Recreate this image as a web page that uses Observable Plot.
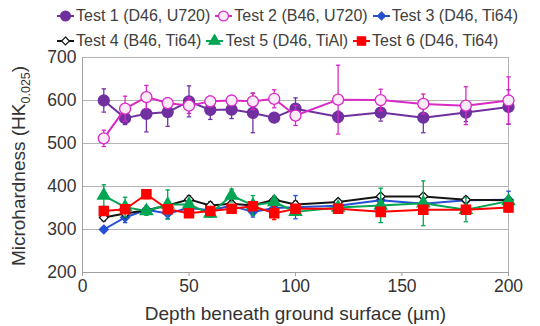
<!DOCTYPE html>
<html><head><meta charset="utf-8">
<script src="https://cdn.jsdelivr.net/npm/d3@7"></script>
<script src="https://cdn.jsdelivr.net/npm/@observablehq/plot@0.6"></script>
<style>
body{margin:0;background:#fff;font-family:"Liberation Sans",Arial,sans-serif;}
#wrap{position:relative;width:540px;height:326px;overflow:hidden;}
#legend{position:relative;height:46px;width:540px;font-size:16px;color:#404040;}
.row{position:absolute;left:56px;display:flex;align-items:center;white-space:nowrap;height:20px;gap:4px;}
.item{display:flex;align-items:center;white-space:nowrap;}
.item svg{margin-right:1px;}
#chart svg{display:block;}
g[aria-label="x-axis label"] text{font-size:19px;}
</style></head><body><div id="wrap"><div id="legend"></div><div id="chart"></div></div>
<script>
const depth = [10,20,30,40,50,60,70,80,90,100,120,140,160,180,200];
const names = ["Test 1 (D46, U720)","Test 2 (B46, U720)","Test 3 (D46, Ti64)","Test 4 (B46, Ti64)","Test 5 (D46, TiAl)","Test 6 (D46, Ti64)"];
const test1 = [600,559,569,573,598,578,579,571,560,581,562,572,560,572,585];
const test1Err = [27,15,42,33,36,22,21,46,8,25,13,20,35,21,40];
const test2 = [512,581,608,594,588,598,600,598,604,565,602,601,592,588,600];
const test2Err = [19,29,27,12,18,12,8,19,21,23,80,25,23,44,55];
const test3 = [300,328,346,337,350,345,355,341,350,352,355,368,360,368,369];
const test3Err = [5,12,8,12,8,8,8,12,8,27,8,10,8,8,20];
const test4 = [328,337,345,356,370,356,360,356,369,358,364,377,377,369,368];
const test4Err = [8,8,8,8,8,8,8,8,8,8,6,6,6,6,6];
const test5 = [379,352,343,358,358,337,379,356,364,341,351,356,361,346,366];
const test5Err = [25,23,10,34,8,8,15,23,8,8,8,40,52,28,8];
const test6 = [343,347,382,347,338,343,348,354,338,348,348,341,346,346,351];
const test6Err = [10,8,10,8,8,8,8,8,15,5,5,8,8,10,10];
const yTicks = [200,300,400,500,600,700];
const xTicks = [0,50,100,150,200];

const styles = [
  {color:"#7030a0", symbol:"circle", fill:"#7030a0", r:5.5},
  {color:"#d92ac6", symbol:"circle", fill:"#fbeaf7", r:5.5},
  {color:"#2450d2", symbol:"diamond2", fill:"#2450d2", r:4},
  {color:"#141414", symbol:"diamond2", fill:"#ffffff", r:4},
  {color:"#00a651", symbol:"triangle", fill:"#00a651", r:4.6},
  {color:"#ff0000", symbol:"square", fill:"#ff0000", r:5.2}
];
const values = [test1,test2,test3,test4,test5,test6];
const errs = [test1Err,test2Err,test3Err,test4Err,test5Err,test6Err];

const cap = {draw(ctx, size){ const r = Math.sqrt(size/Math.PI); ctx.moveTo(-r,0); ctx.lineTo(r,0); }};

const marks = [
  Plot.gridY(yTicks, {stroke:"#b4b4b4", strokeOpacity:1, strokeWidth:1}),
  Plot.ruleX([0], {stroke:"#a0a0a0"}),
  Plot.ruleX([200], {stroke:"#b4b4b4"}),
  Plot.ruleY([200], {stroke:"#a0a0a0"}),
  Plot.axisY(yTicks, {tickSize:0, tickPadding:6, fontSize:17.5, fill:"#333", label:null}),
  Plot.axisX(xTicks, {tickSize:4, tickPadding:3, fontSize:17.5, fill:"#333", stroke:"#a0a0a0",
    label:"Depth beneath ground surface (µm)", labelAnchor:"center", labelArrow:"none", labelOffset:47})
];
values.forEach((vals, k) => {
  const s = styles[k];
  const data = depth.map((x,i)=>({x, y:vals[i], lo:vals[i]-errs[k][i], hi:vals[i]+errs[k][i]}));
  marks.push(
    Plot.ruleX(data, {x:"x", y1:"lo", y2:"hi", stroke:s.color, strokeWidth:1.3}),
    Plot.dot(data, {x:"x", y:"lo", symbol:cap, r:2.2, stroke:s.color, fill:"none", strokeWidth:1.3}),
    Plot.dot(data, {x:"x", y:"hi", symbol:cap, r:2.2, stroke:s.color, fill:"none", strokeWidth:1.3}),
    Plot.line(data, {x:"x", y:"y", stroke:s.color, strokeWidth:2}),
    Plot.dot(data, {x:"x", y:"y", symbol:s.symbol, r:s.r, fill:s.fill, stroke:s.color, strokeWidth:1.3})
  );
});

const chart = Plot.plot({
  width:540, height:280,
  marginLeft:82, marginRight:32, marginTop:11, marginBottom:54,
  style:{fontFamily:"Liberation Sans, Arial, sans-serif", fontSize:"17.5px", color:"#333", background:"#fff"},
  x:{domain:[0,200], label:null},
  y:{domain:[200,700], label:null},
  marks
});
document.getElementById("chart").appendChild(chart);

// rotated y-axis title with subscript
const svg = d3.select(chart);
const t = svg.append("text")
  .attr("transform", "translate(25,120) rotate(-90)")
  .attr("text-anchor", "middle")
  .attr("font-size", 19)
  .attr("fill", "#333");
t.append("tspan").text("Microhardness (HK");
t.append("tspan").attr("font-size", 12.5).attr("dy", 4.5).text("0.025");
t.append("tspan").attr("dy", -4.5).text(")");

// legend
const legend = d3.select("#legend");
const rowsTop = [6, 31];
[0,1].forEach(r => {
  const row = legend.append("div").attr("class","row").style("top", rowsTop[r]+"px");
  names.slice(r*3, r*3+3).forEach((name, j) => {
    const s = styles[r*3+j];
    const item = row.append("div").attr("class","item");
    const sv = item.append("svg").attr("width",19).attr("height",14);
    sv.append("line").attr("x1",1).attr("x2",18).attr("y1",7).attr("y2",7).attr("stroke",s.color).attr("stroke-width",2);
    const sym = s.symbol === "diamond2" ? d3.symbolDiamond2 : s.symbol === "triangle" ? d3.symbolTriangle : s.symbol === "square" ? d3.symbolSquare : d3.symbolCircle;
    sv.append("path").attr("transform","translate(9.5,7)")
      .attr("d", d3.symbol(sym, s.r*s.r*Math.PI*0.8)())
      .attr("fill", s.fill).attr("stroke", s.color).attr("stroke-width",1.2);
    item.append("span").text(name);
  });
});
</script></body></html>
